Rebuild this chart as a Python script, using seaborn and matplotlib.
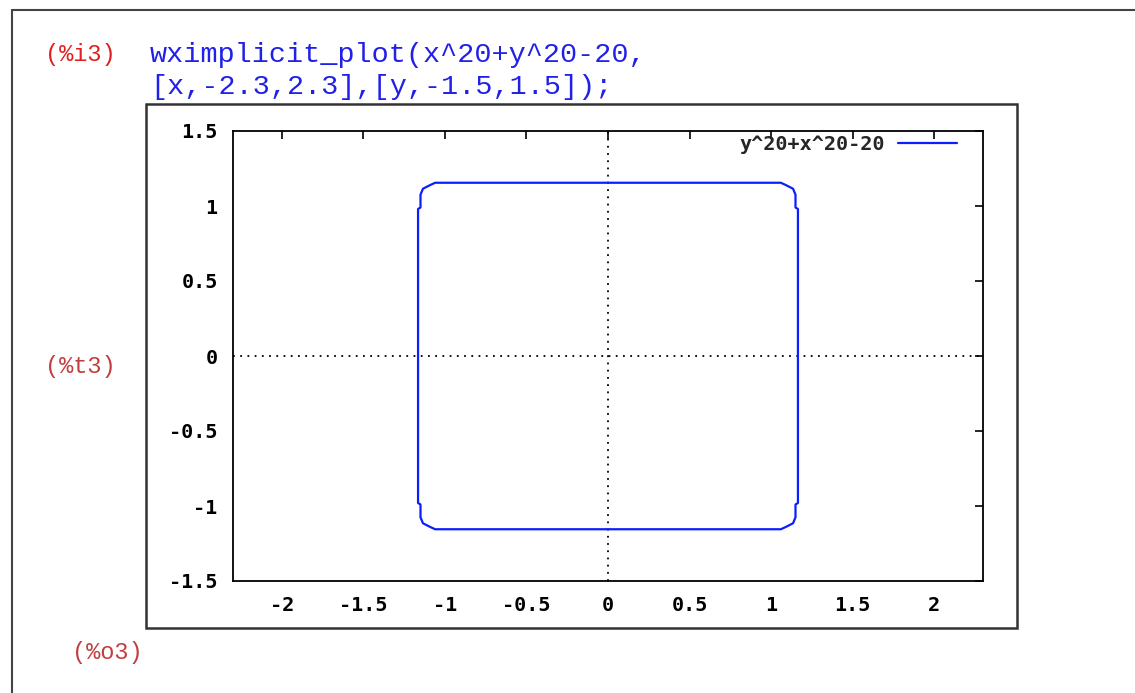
import matplotlib
matplotlib.use('Agg')
import numpy as np
import pandas as pd
import seaborn as sns
import matplotlib.pyplot as plt
from matplotlib.patches import Rectangle

# corner of the curve in the first quadrant
quad_x = [0.0, 1.06, 1.09, 1.135, 1.15, 1.15, 1.165, 1.165]
quad_y = [1.155, 1.155, 1.14, 1.115, 1.075, 0.99, 0.98, 0.0]

x_ticks = [-2, -1.5, -1, -0.5, 0, 0.5, 1, 1.5, 2]
y_ticks = [-1.5, -1, -0.5, 0, 0.5, 1, 1.5]
x_range = [-2.3, 2.3]
y_range = [-1.5, 1.5]
legend_label = "y^20+x^20-20"

# build closed outline by mirroring the quadrant (the picture is symmetric)
qx = np.array(quad_x)
qy = np.array(quad_y)
outline_x = np.concatenate([qx, qx[::-1], -qx, -qx[::-1]])
outline_y = np.concatenate([qy, -qy[::-1], -qy, qy[::-1]])
df = pd.DataFrame({"x": outline_x, "y": outline_y})

sns.set_style("white")
plt.rcParams['axes.unicode_minus'] = False

W, H = 1135, 693
fig = plt.figure(figsize=(W / 100, H / 100), dpi=100)

# outer cell frame (top and left edges only)
fig.add_artist(plt.Line2D([12 / W, 1], [1 - 10 / H, 1 - 10 / H], color='#444444', lw=1.5))
fig.add_artist(plt.Line2D([12 / W, 12 / W], [1 - 10 / H, 0], color='#444444', lw=1.5))

# image box
fig.add_artist(Rectangle((146 / W, 1 - 628 / H), 871 / W, 524 / H, fill=False,
                         edgecolor='#333333', lw=1.8))

mono = 'Liberation Mono'
fig.text(45 / W, 1 - 55 / H, "(%i3)", color='#e02020', fontsize=17, family=mono, va='center')
fig.text(150 / W, 1 - 55 / H, "wximplicit_plot(x^20+y^20-20,", color='#2020e8', fontsize=20.5,
         family=mono, va='center')
fig.text(150 / W, 1 - 87 / H, "[x,-2.3,2.3],[y,-1.5,1.5]);", color='#2020e8', fontsize=20.5,
         family=mono, va='center')
fig.text(45 / W, 1 - 367 / H, "(%t3)", color='#c04040', fontsize=17, family=mono, va='center')
fig.text(72 / W, 1 - 653 / H, "(%o3)", color='#c04040', fontsize=17, family=mono, va='center')

ax = fig.add_axes([233 / W, 1 - 581 / H, 750 / W, 450 / H])
sns.lineplot(data=df, x="x", y="y", sort=False, estimator=None, color='#0a1eff', lw=1.6,
             ax=ax, label=legend_label)

ax.axhline(0, color='black', lw=1.3, ls=(0, (1, 3)), zorder=1)
ax.axvline(0, color='black', lw=1.3, ls=(0, (1, 3)), zorder=1)

ax.set_xlim(x_range)
ax.set_ylim(y_range)
ax.set_xticks(x_ticks)
ax.set_yticks(y_ticks)
ax.set_xticklabels([f"{v:g}" for v in x_ticks])
ax.set_yticklabels([f"{v:g}" for v in y_ticks])
ax.set_xlabel("")
ax.set_ylabel("")
ax.tick_params(direction='in', length=6, width=1.2, top=True, right=True, colors='black',
               labelsize=14.5)
ax.tick_params(axis='x', pad=11)
ax.tick_params(axis='y', pad=11)
for lab in ax.get_xticklabels() + ax.get_yticklabels():
    lab.set_family('DejaVu Sans Mono')
    lab.set_fontweight('bold')
for s in ax.spines.values():
    s.set_color('black')
    s.set_linewidth(1.3)

leg = ax.legend(loc='center right', bbox_to_anchor=(0.965, 0.969), frameon=False,
                markerfirst=False, handlelength=2.9, handletextpad=0.65, borderpad=0,
                borderaxespad=0, prop={'family': 'DejaVu Sans Mono', 'weight': 'bold', 'size': 14.5})

fig.savefig("out.png", dpi=100)
